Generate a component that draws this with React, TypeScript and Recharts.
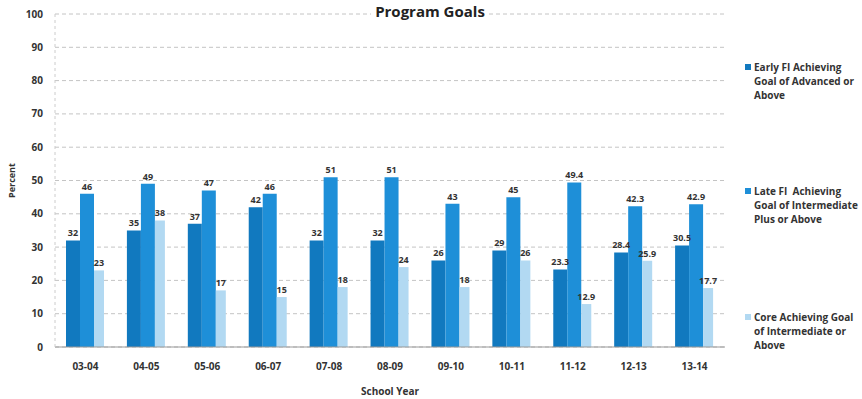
import React from "react";
import { Bar, BarChart, CartesianGrid, LabelList, XAxis, YAxis } from "recharts";

const years = ["03-04", "04-05", "05-06", "06-07", "07-08", "08-09", "09-10", "10-11", "11-12", "12-13", "13-14"];
const earlyFI = [32, 35, 37, 42, 32, 32, 26, 29, 23.3, 28.4, 30.5];
const lateFI = [46, 49, 47, 46, 51, 51, 43, 45, 49.4, 42.3, 42.9];
const core = [23, 38, 17, 15, 18, 24, 18, 26, 12.9, 25.9, 17.7];
const yTicks = [0, 10, 20, 30, 40, 50, 60, 70, 80, 90, 100];

const series = [
  {
    key: "early",
    name: "Early FI Achieving Goal of Advanced or Above",
    lines: ["Early FI Achieving", "Goal of Advanced or", "Above"],
    color: "#1179bf",
    size: 14,
  },
  {
    key: "late",
    name: "Late FI  Achieving Goal of Intermediate Plus or Above",
    lines: ["Late FI  Achieving", "Goal of Intermediate", "Plus or Above"],
    color: "#1e8fd8",
    size: 14,
  },
  {
    key: "core",
    name: "Core Achieving Goal of Intermediate or Above",
    lines: ["Core Achieving Goal", "of Intermediate or", "Above"],
    color: "#b2d9f2",
    size: 10,
  },
];

const data = years.map((year, i) => ({
  year,
  early: earlyFI[i],
  late: lateFI[i],
  core: core[i],
}));

const font = "'Open Sans', 'Liberation Sans', sans-serif";

// legend sits to the right of the plot, three blocks spread down the side
function SideLegend() {
  const tops = [52, 176, 302];
  return (
    <div style={{ position: "absolute", left: 745, top: 8, width: 117, height: 340 }}>
      {series.map((s, i) => (
        <div
          key={s.key}
          style={{
            position: "absolute",
            top: tops[i],
            left: 0,
            display: "flex",
            alignItems: "flex-start",
            fontFamily: font,
            fontWeight: 700,
            fontSize: 10,
            lineHeight: "14px",
            color: "#333",
            whiteSpace: "pre",
          }}
        >
          <span
            style={{
              display: "inline-block",
              width: 6,
              height: 6,
              background: s.color,
              marginTop: 4,
              marginRight: 3,
              flexShrink: 0,
            }}
          />
          <span>
            {s.lines.map((l) => (
              <div key={l}>{l}</div>
            ))}
          </span>
        </div>
      ))}
    </div>
  );
}

export default function App() {
  return (
    <div style={{ position: "absolute", left: 0, top: 0, width: 862, height: 399, background: "#fff" }}>
      <BarChart
        width={862}
        height={399}
        data={data}
        margin={{ top: 14, right: 137, left: 0, bottom: 0 }}
        barGap={0}
        barCategoryGap={10}
      >
        <CartesianGrid stroke="#c4c4c4" strokeDasharray="4 3" vertical={false} />
        <XAxis
          dataKey="year"
          height={52}
          tickLine={false}
          axisLine={{ stroke: "#999" }}
          tick={{ fontFamily: font, fontWeight: 700, fontSize: 10, fill: "#333" }}
          tickMargin={10}
          interval={0}
          label={{
            value: "School Year",
            position: "insideBottom",
            offset: 4,
            style: { fontFamily: font, fontWeight: 700, fontSize: 10, fill: "#333" },
          }}
        />
        <YAxis
          width={55}
          domain={[0, 100]}
          ticks={yTicks}
          interval={0}
          tickLine={false}
          axisLine={{ stroke: "#ccc", strokeDasharray: "3 3" }}
          tick={{ fontFamily: font, fontWeight: 700, fontSize: 10, fill: "#333" }}
          tickMargin={6}
          label={{
            value: "Percent",
            angle: -90,
            position: "insideLeft",
            offset: 12,
            style: { fontFamily: font, fontWeight: 700, fontSize: 9, fill: "#333", textAnchor: "middle" },
          }}
        />
        {series.map((s) => (
          <Bar key={s.key} dataKey={s.key} name={s.name} fill={s.color} barSize={s.size} isAnimationActive={false}>
            <LabelList
              dataKey={s.key}
              position="top"
              offset={4}
              style={{ fontFamily: font, fontWeight: 700, fontSize: 9, fill: "#333" }}
            />
          </Bar>
        ))}
      </BarChart>
      <div
        style={{
          position: "absolute",
          left: 330,
          top: 1,
          width: 200,
          textAlign: "center",
          fontFamily: font,
          fontWeight: 700,
          fontSize: 15,
          color: "#222",
          lineHeight: "20px",
        }}
      >
        <span style={{ background: "#fff", padding: "0 4px" }}>Program Goals</span>
      </div>
      <SideLegend />
    </div>
  );
}
